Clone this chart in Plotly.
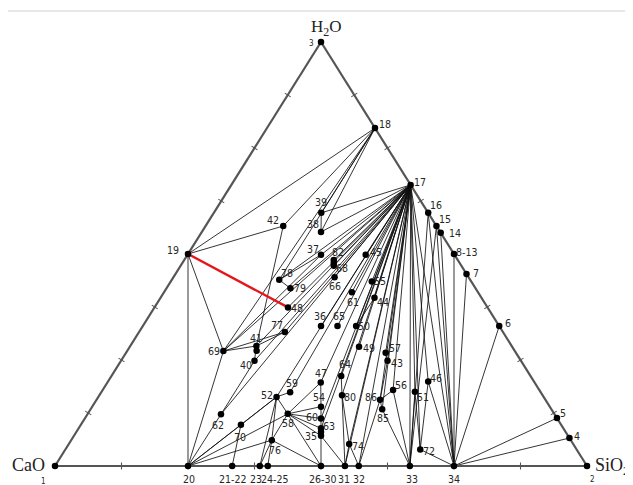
import plotly.graph_objects as go

# ---------------- data: phase compositions (mole fractions CaO, SiO2, H2O) ----------------
names = ["1", "2", "3", "4", "5", "6", "7", "8-13", "14", "15", "16", "17", "18", "19",
         "20", "21-22", "23", "24-25", "26-30", "31", "32", "33", "34",
         "35", "36", "37", "38", "39", "40", "41", "42", "43", "44", "45", "46", "47", "48",
         "49", "50", "51", "52", "54", "55", "56", "57", "58", "59", "60", "61", "62", "63",
         "64", "65", "66", "68", "69", "70", "72", "74", "76", "77", "78", "79", "80", "82",
         "85", "86"]
cao = [1.0, 0.0, 0.0, 0.0, 0.0, 0.0, 0.0, 0.0, 0.0, 0.0, 0.0, 0.0, 0.0, 0.5,
       0.75, 0.667, 0.615, 0.6, 0.5, 0.455, 0.429, 0.333, 0.25,
       0.464, 0.335, 0.251, 0.224, 0.201, 0.501, 0.480, 0.288, 0.251, 0.201, 0.167, 0.199, 0.402, 0.375,
       0.288, 0.269, 0.236, 0.502, 0.430, 0.187, 0.275, 0.245, 0.501, 0.471, 0.444, 0.237, 0.627, 0.456,
       0.356, 0.304, 0.252, 0.240, 0.548, 0.602, 0.294, 0.421, 0.562, 0.410, 0.359, 0.348, 0.377, 0.233,
       0.318, 0.311]
sio2 = [0.0, 1.0, 0.0, 0.934, 0.887, 0.670, 0.547, 0.5, 0.450, 0.434, 0.403, 0.337, 0.203, 0.0,
        0.25, 0.333, 0.385, 0.4, 0.5, 0.545, 0.571, 0.667, 0.75,
        0.464, 0.335, 0.251, 0.224, 0.202, 0.251, 0.237, 0.146, 0.501, 0.402, 0.335, 0.602, 0.401, 0.251,
        0.431, 0.401, 0.589, 0.335, 0.430, 0.378, 0.546, 0.488, 0.376, 0.355, 0.444, 0.353, 0.251, 0.456,
        0.432, 0.366, 0.303, 0.288, 0.181, 0.301, 0.667, 0.527, 0.377, 0.274, 0.202, 0.233, 0.456, 0.281,
        0.548, 0.533]
h2o = [0.0, 0.0, 1.0, 0.066, 0.113, 0.330, 0.453, 0.5, 0.550, 0.566, 0.597, 0.663, 0.797, 0.5,
       0.0, 0.0, 0.0, 0.0, 0.0, 0.0, 0.0, 0.0, 0.0,
       0.071, 0.330, 0.498, 0.552, 0.597, 0.248, 0.283, 0.566, 0.248, 0.397, 0.498, 0.199, 0.197, 0.374,
       0.281, 0.330, 0.175, 0.163, 0.140, 0.435, 0.179, 0.267, 0.123, 0.174, 0.112, 0.410, 0.122, 0.089,
       0.212, 0.330, 0.445, 0.472, 0.271, 0.097, 0.039, 0.052, 0.061, 0.316, 0.439, 0.419, 0.167, 0.486,
       0.134, 0.156]

# unlabeled secondary points
extra_cao = [0.485, 0.460, 0.2365]
extra_sio2 = [0.243, 0.460, 0.2845]
extra_h2o = [0.272, 0.080, 0.479]

# tie lines (pairs of phase labels)
sides = [("1", "2"), ("1", "3"), ("3", "2")]
red_tie = [("19", "48")]
fan17 = ["39", "38", "37", "82", "68", "66", "45", "55", "61", "44", "78", "79", "48", "36", "65",
         "50", "49", "77", "41", "40", "69", "62", "52", "59", "47", "64", "80", "60", "63", "74",
         "31", "32", "57", "43", "56", "86", "85", "51", "46", "72", "33", "34"]
ties = [("19", "18"), ("19", "42"), ("19", "20"), ("19", "69"),
        ("42", "18"), ("42", "41"),
        ("18", "39"), ("18", "38"), ("18", "78"), ("18", "69"),
        ("39", "38"), ("78", "79"), ("78", "37"),
        ("69", "41"), ("69", "20"), ("69", "37"), ("69", "77"),
        ("41", "40"), ("77", "41"), ("62", "40"), ("62", "20"),
        ("70", "20"), ("70", "21-22"), ("70", "52"), ("20", "52"), ("20", "76"), ("20", "58"),
        ("23", "76"), ("24-25", "76"), ("23", "52"), ("76", "52"), ("76", "58"), ("76", "26-30"),
        ("52", "59"), ("52", "58"),
        ("58", "47"), ("58", "54"), ("58", "60"), ("58", "63"), ("58", "35"), ("58", "26-30"),
        ("47", "54"), ("54", "60"), ("60", "63"), ("63", "35"), ("35", "26-30"), ("35", "31"),
        ("64", "80"), ("80", "31"), ("80", "74"), ("74", "31"), ("74", "32"), ("44", "50"),
        ("57", "43"), ("43", "86"), ("86", "56"), ("86", "85"), ("56", "33"), ("85", "33"), ("86", "32"),
        ("51", "33"), ("51", "72"), ("72", "34"), ("46", "72"), ("46", "34"),
        ("16", "34"), ("15", "34"), ("14", "34"), ("8-13", "34"), ("7", "34"), ("6", "34"),
        ("5", "34"), ("4", "34"), ("16", "33"), ("15", "33"), ("17", "16")] + [("17", p) for p in fan17]

tick_frac = [0.125, 0.25, 0.375, 0.5, 0.625, 0.75, 0.875]

# ---------------- styling (label offsets in px: dx, dy up) ----------------
label_off = {
    "1": (-12, -15), "2": (5, -13), "3": (-10, -1), "4": (8, 2), "5": (6, 5), "6": (9, 3), "7": (9, 1),
    "8-13": (12, 2), "14": (14, 0), "15": (9, 7), "16": (8, 8), "17": (9, 3), "18": (10, 4),
    "19": (-15, 4), "20": (1, -13), "21-22": (0, -13), "23": (-4, -13), "24-25": (7, -13),
    "26-30": (1, -13), "31": (-1, -13), "32": (0, -13), "33": (2, -13), "34": (0, -13),
    "35": (-10, 0), "36": (-1, 10), "37": (-8, 6), "38": (-8, 8), "39": (0, 11), "40": (-9, -4),
    "41": (0, 8), "42": (-10, 6), "43": (9, -2), "44": (9, -4), "45": (10, 3), "46": (8, 4),
    "47": (0, 9), "48": (9, -1), "49": (10, -1), "50": (8, 0), "51": (8, -5), "52": (-10, 2),
    "54": (-2, 10), "55": (8, 1), "56": (8, 5), "57": (9, 5), "58": (0, -9), "59": (2, 9),
    "60": (-9, 2), "61": (1, -10), "62": (-3, -11), "63": (8, 2), "64": (4, 12), "65": (2, 10),
    "66": (0, -9), "68": (8, -2), "69": (-9, 0), "70": (-1, -12), "72": (9, -2), "74": (9, -2),
    "76": (3, -10), "77": (-8, 7), "78": (8, 7), "79": (10, 0), "80": (8, -2), "82": (4, 8),
    "85": (1, -9), "86": (-9, 3),
}
small_labels = {"1", "2", "3"}

# the page body has an 8px margin, so the figure is sized/offset to land where the reference is
PAGE_OFF = 8
FIG_W, FIG_H = 633 - PAGE_OFF, 485 - PAGE_OFF
X0_PX, BASE_PX, SIDE_PX, HEIGHT_PX = 55 - PAGE_OFF, 466 - PAGE_OFF, 532, 424


def to_xy(c, s, h):
    t = c + s + h
    s, h = s / t, h / t
    return s + h / 2.0, h


px, py = {}, {}
for n, c, s, h in zip(names, cao, sio2, h2o):
    px[n], py[n] = to_xy(c, s, h)


def seg_xy(pairs):
    xs, ys = [], []
    for a, b in pairs:
        xs += [px[a], px[b], None]
        ys += [py[a], py[b], None]
    return xs, ys


fig = go.Figure()

lx, ly = seg_xy(ties)
fig.add_trace(go.Scatter(x=lx, y=ly, mode="lines", line=dict(color="#111111", width=0.85),
                         hoverinfo="skip"))
sx, sy = seg_xy(sides)
fig.add_trace(go.Scatter(x=sx, y=sy, mode="lines", line=dict(color="#555555", width=2.2),
                         hoverinfo="skip"))
rx, ry = seg_xy(red_tie)
fig.add_trace(go.Scatter(x=rx, y=ry, mode="lines", line=dict(color="#e8141b", width=2.4),
                         hoverinfo="skip"))

# side ticks
tx, ty, ta = [], [], []
for f in tick_frac:
    x, y = to_xy(1 - f, f, 0)
    tx.append(x); ty.append(y); ta.append(0)
    x, y = to_xy(1 - f, 0, f)
    tx.append(x); ty.append(y); ta.append(-57.9)
    x, y = to_xy(0, 1 - f, f)
    tx.append(x); ty.append(y); ta.append(57.9)
fig.add_trace(go.Scatter(x=tx, y=ty, mode="markers",
                         marker=dict(symbol="line-ns", size=5, angle=ta,
                                     line=dict(color="#555555", width=1.1)),
                         hoverinfo="skip"))

# points
pxs = [px[n] for n in names]
pys = [py[n] for n in names]
for c, s, h in zip(extra_cao, extra_sio2, extra_h2o):
    x, y = to_xy(c, s, h)
    pxs.append(x); pys.append(y)
fig.add_trace(go.Scatter(x=pxs, y=pys, mode="markers",
                         marker=dict(color="#000000", size=6.5), hoverinfo="skip"))

ann = []
for n in names:
    dx, dy = label_off.get(n, (8, 0))
    ann.append(dict(x=px[n], y=py[n], text=n, showarrow=False, xshift=dx, yshift=dy,
                    font=dict(family="Liberation Sans Narrow, Arial Narrow, DejaVu Sans Condensed, sans-serif",
                              size=8 if n in small_labels else 10.5, color="#262626")))

serif = "Liberation Serif, Times New Roman, serif"
ann.append(dict(x=px["1"], y=py["1"], text="CaO", showarrow=False, xshift=-27, yshift=1,
                font=dict(family=serif, size=18, color="#222222")))
ann.append(dict(x=px["2"], y=py["2"], text="SiO<sub>2</sub>", showarrow=False, xanchor="left",
                xshift=6, yshift=0, font=dict(family=serif, size=18, color="#222222")))
ann.append(dict(x=px["3"], y=py["3"], text="H<sub>2</sub>O", showarrow=False, xshift=5, yshift=14,
                font=dict(family=serif, size=17, color="#222222")))

fig.update_layout(
    width=FIG_W, height=FIG_H,
    margin=dict(l=0, r=0, t=0, b=0),
    paper_bgcolor="white", plot_bgcolor="white",
    showlegend=False,
    annotations=ann,
    xaxis=dict(range=[-X0_PX / SIDE_PX, (FIG_W - X0_PX) / SIDE_PX], visible=False, fixedrange=True),
    yaxis=dict(range=[(BASE_PX - FIG_H) / HEIGHT_PX, BASE_PX / HEIGHT_PX], visible=False, fixedrange=True),
    shapes=[dict(type="line", xref="paper", yref="paper", x0=0, x1=1, y0=1 - 3 / FIG_H,
                 y1=1 - 3 / FIG_H, line=dict(color="#d0d0d0", width=1))],
)

fig.write_html("out.html")
